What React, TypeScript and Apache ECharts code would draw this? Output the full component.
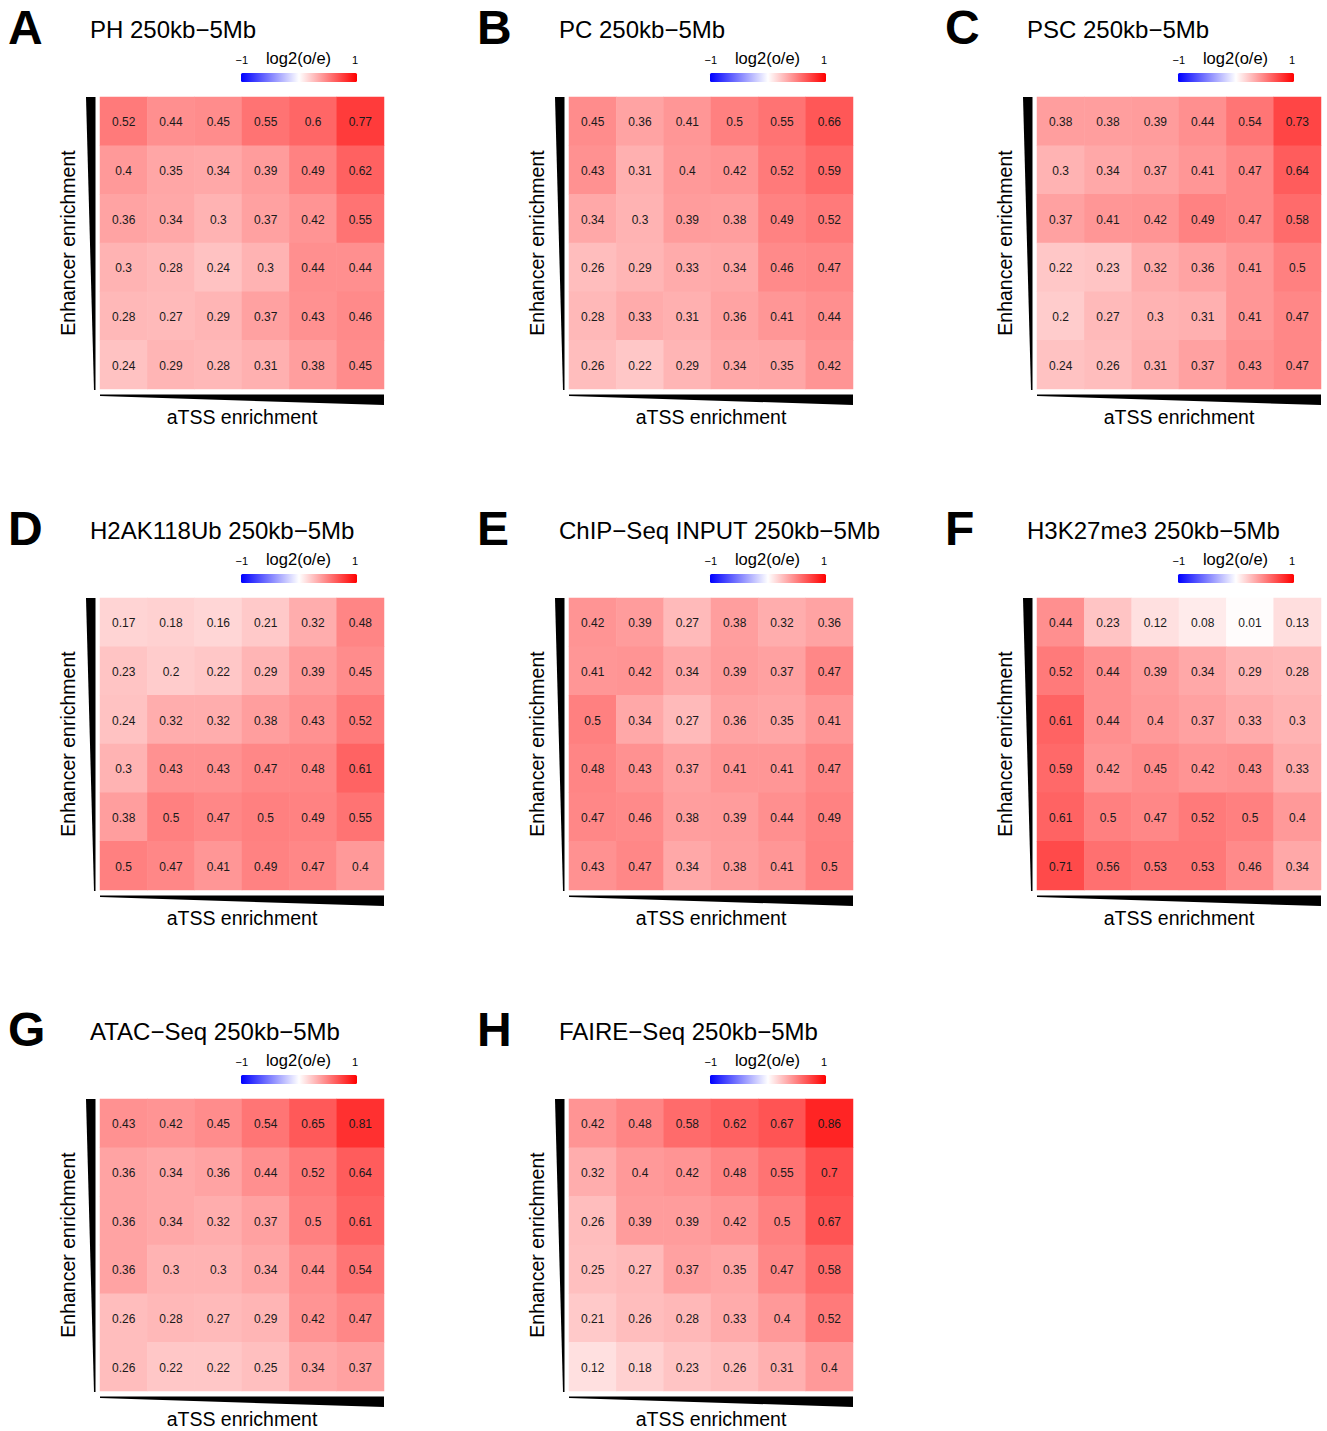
import React, { useEffect, useRef } from "react";
import * as echarts from "echarts";

const letters = ["A", "B", "C", "D", "E", "F", "G", "H"];
const titles = [
  "PH 250kb\u22125Mb",
  "PC 250kb\u22125Mb",
  "PSC 250kb\u22125Mb",
  "H2AK118Ub 250kb\u22125Mb",
  "ChIP\u2212Seq INPUT 250kb\u22125Mb",
  "H3K27me3 250kb\u22125Mb",
  "ATAC\u2212Seq 250kb\u22125Mb",
  "FAIRE\u2212Seq 250kb\u22125Mb",
];
const xCategories = ["1", "2", "3", "4", "5", "6"];
const yCategories = ["1", "2", "3", "4", "5", "6"];
const legendMin = -1;
const legendMax = 1;
const legendTitle = "log2(o/e)";
const xAxisTitle = "aTSS enrichment";
const yAxisTitle = "Enhancer enrichment";

const phValues = [
  [0.52, 0.44, 0.45, 0.55, 0.6, 0.77],
  [0.4, 0.35, 0.34, 0.39, 0.49, 0.62],
  [0.36, 0.34, 0.3, 0.37, 0.42, 0.55],
  [0.3, 0.28, 0.24, 0.3, 0.44, 0.44],
  [0.28, 0.27, 0.29, 0.37, 0.43, 0.46],
  [0.24, 0.29, 0.28, 0.31, 0.38, 0.45],
];
const pcValues = [
  [0.45, 0.36, 0.41, 0.5, 0.55, 0.66],
  [0.43, 0.31, 0.4, 0.42, 0.52, 0.59],
  [0.34, 0.3, 0.39, 0.38, 0.49, 0.52],
  [0.26, 0.29, 0.33, 0.34, 0.46, 0.47],
  [0.28, 0.33, 0.31, 0.36, 0.41, 0.44],
  [0.26, 0.22, 0.29, 0.34, 0.35, 0.42],
];
const pscValues = [
  [0.38, 0.38, 0.39, 0.44, 0.54, 0.73],
  [0.3, 0.34, 0.37, 0.41, 0.47, 0.64],
  [0.37, 0.41, 0.42, 0.49, 0.47, 0.58],
  [0.22, 0.23, 0.32, 0.36, 0.41, 0.5],
  [0.2, 0.27, 0.3, 0.31, 0.41, 0.47],
  [0.24, 0.26, 0.31, 0.37, 0.43, 0.47],
];
const h2akValues = [
  [0.17, 0.18, 0.16, 0.21, 0.32, 0.48],
  [0.23, 0.2, 0.22, 0.29, 0.39, 0.45],
  [0.24, 0.32, 0.32, 0.38, 0.43, 0.52],
  [0.3, 0.43, 0.43, 0.47, 0.48, 0.61],
  [0.38, 0.5, 0.47, 0.5, 0.49, 0.55],
  [0.5, 0.47, 0.41, 0.49, 0.47, 0.4],
];
const inputValues = [
  [0.42, 0.39, 0.27, 0.38, 0.32, 0.36],
  [0.41, 0.42, 0.34, 0.39, 0.37, 0.47],
  [0.5, 0.34, 0.27, 0.36, 0.35, 0.41],
  [0.48, 0.43, 0.37, 0.41, 0.41, 0.47],
  [0.47, 0.46, 0.38, 0.39, 0.44, 0.49],
  [0.43, 0.47, 0.34, 0.38, 0.41, 0.5],
];
const h3k27Values = [
  [0.44, 0.23, 0.12, 0.08, 0.01, 0.13],
  [0.52, 0.44, 0.39, 0.34, 0.29, 0.28],
  [0.61, 0.44, 0.4, 0.37, 0.33, 0.3],
  [0.59, 0.42, 0.45, 0.42, 0.43, 0.33],
  [0.61, 0.5, 0.47, 0.52, 0.5, 0.4],
  [0.71, 0.56, 0.53, 0.53, 0.46, 0.34],
];
const atacValues = [
  [0.43, 0.42, 0.45, 0.54, 0.65, 0.81],
  [0.36, 0.34, 0.36, 0.44, 0.52, 0.64],
  [0.36, 0.34, 0.32, 0.37, 0.5, 0.61],
  [0.36, 0.3, 0.3, 0.34, 0.44, 0.54],
  [0.26, 0.28, 0.27, 0.29, 0.42, 0.47],
  [0.26, 0.22, 0.22, 0.25, 0.34, 0.37],
];
const faireValues = [
  [0.42, 0.48, 0.58, 0.62, 0.67, 0.86],
  [0.32, 0.4, 0.42, 0.48, 0.55, 0.7],
  [0.26, 0.39, 0.39, 0.42, 0.5, 0.67],
  [0.25, 0.27, 0.37, 0.35, 0.47, 0.58],
  [0.21, 0.26, 0.28, 0.33, 0.4, 0.52],
  [0.12, 0.18, 0.23, 0.26, 0.31, 0.4],
];

const panels = [phValues, pcValues, pscValues, h2akValues, inputValues, h3k27Values, atacValues, faireValues];

const FONT = "'Liberation Sans', Arial, Helvetica, sans-serif";
const COL_X = [100, 569, 1037];
const ROW_Y = [97, 598, 1099];
const GW = 284;
const GH = 292;

export default function App() {
  const ref = useRef<HTMLDivElement>(null);
  useEffect(() => {
    if (!ref.current) return;
    const chart = echarts.init(ref.current, null, { renderer: "svg" });
    const grids: any[] = [];
    const xAxes: any[] = [];
    const yAxes: any[] = [];
    const series: any[] = [];
    const graphics: any[] = [];

    panels.forEach((vals, i) => {
      const gx = COL_X[i % 3];
      const gy = ROW_Y[Math.floor(i / 3)];
      grids.push({ left: gx, top: gy, width: GW, height: GH, containLabel: false });
      xAxes.push({ type: "category", gridIndex: i, data: xCategories, show: false });
      yAxes.push({ type: "category", gridIndex: i, data: yCategories, inverse: true, show: false });
      const data: any[] = [];
      vals.forEach((row, r) => row.forEach((v, c) => data.push([c, r, v])));
      series.push({
        type: "heatmap",
        xAxisIndex: i,
        yAxisIndex: i,
        data,
        itemStyle: { borderWidth: 0 },
        label: {
          show: true,
          fontFamily: FONT,
          fontSize: 12,
          color: "#1a1a1a",
          offset: [0, 1],
          formatter: (p: any) => String(p.value[2]),
        },
        emphasis: { disabled: true },
      });

      // panel letter
      graphics.push({
        type: "text",
        x: gx - 92,
        y: gy - 70,
        style: { text: letters[i], font: `bold 48px ${FONT}`, fill: "#000", align: "left", verticalAlign: "middle" },
      });
      // title
      graphics.push({
        type: "text",
        x: gx - 10,
        y: gy - 68,
        style: { text: titles[i], font: `24px ${FONT}`, fill: "#000", align: "left", verticalAlign: "middle" },
      });
      // legend texts
      graphics.push({
        type: "text",
        x: gx + 148,
        y: gy - 37.5,
        style: { text: "\u2212" + Math.abs(legendMin), font: `11px ${FONT}`, fill: "#000", align: "right", verticalAlign: "middle" },
      });
      graphics.push({
        type: "text",
        x: gx + 255,
        y: gy - 37.5,
        style: { text: String(legendMax), font: `11px ${FONT}`, fill: "#000", align: "center", verticalAlign: "middle" },
      });
      graphics.push({
        type: "text",
        x: gx + 198.5,
        y: gy - 39,
        style: { text: legendTitle, font: `16.5px ${FONT}`, fill: "#000", align: "center", verticalAlign: "middle" },
      });
      // colour bar
      graphics.push({
        type: "rect",
        shape: { x: gx + 141, y: gy - 24, width: 116, height: 9, r: 1.5 },
        style: {
          fill: new echarts.graphic.LinearGradient(0, 0, 1, 0, [
            { offset: 0, color: "#0000ff" },
            { offset: 0.5, color: "#ffffff" },
            { offset: 1, color: "#ff0000" },
          ]),
        },
      });
      // vertical wedge
      graphics.push({
        type: "polygon",
        shape: {
          points: [
            [gx - 14, gy],
            [gx - 4.5, gy],
            [gx - 4.5, gy + GH + 1],
            [gx - 6, gy + GH + 1],
          ],
        },
        style: { fill: "#000" },
      });
      // horizontal wedge
      graphics.push({
        type: "polygon",
        shape: {
          points: [
            [gx, gy + GH + 5.5],
            [gx + GW, gy + GH + 5.5],
            [gx + GW, gy + GH + 16],
            [gx, gy + GH + 7],
          ],
        },
        style: { fill: "#000" },
      });
      // axis titles
      graphics.push({
        type: "text",
        x: gx + GW / 2,
        y: gy + GH + 28,
        style: { text: xAxisTitle, font: `19.5px ${FONT}`, fill: "#000", align: "center", verticalAlign: "middle" },
      });
      graphics.push({
        type: "text",
        x: gx - 32,
        y: gy + GH / 2,
        rotation: Math.PI / 2,
        style: { text: yAxisTitle, font: `19.5px ${FONT}`, fill: "#000", align: "center", verticalAlign: "middle" },
      });
    });

    chart.setOption({
      animation: false,
      backgroundColor: "#ffffff",
      grid: grids,
      xAxis: xAxes,
      yAxis: yAxes,
      visualMap: {
        type: "continuous",
        min: legendMin,
        max: legendMax,
        show: false,
        seriesIndex: series.map((_, i) => i),
        inRange: { color: ["#0000ff", "#ffffff", "#ff0000"] },
      },
      series,
      graphic: graphics,
    });
    return () => chart.dispose();
  }, []);
  return <div ref={ref} style={{ position: "absolute", left: 0, top: 0, width: 1327, height: 1431 }} />;
}
